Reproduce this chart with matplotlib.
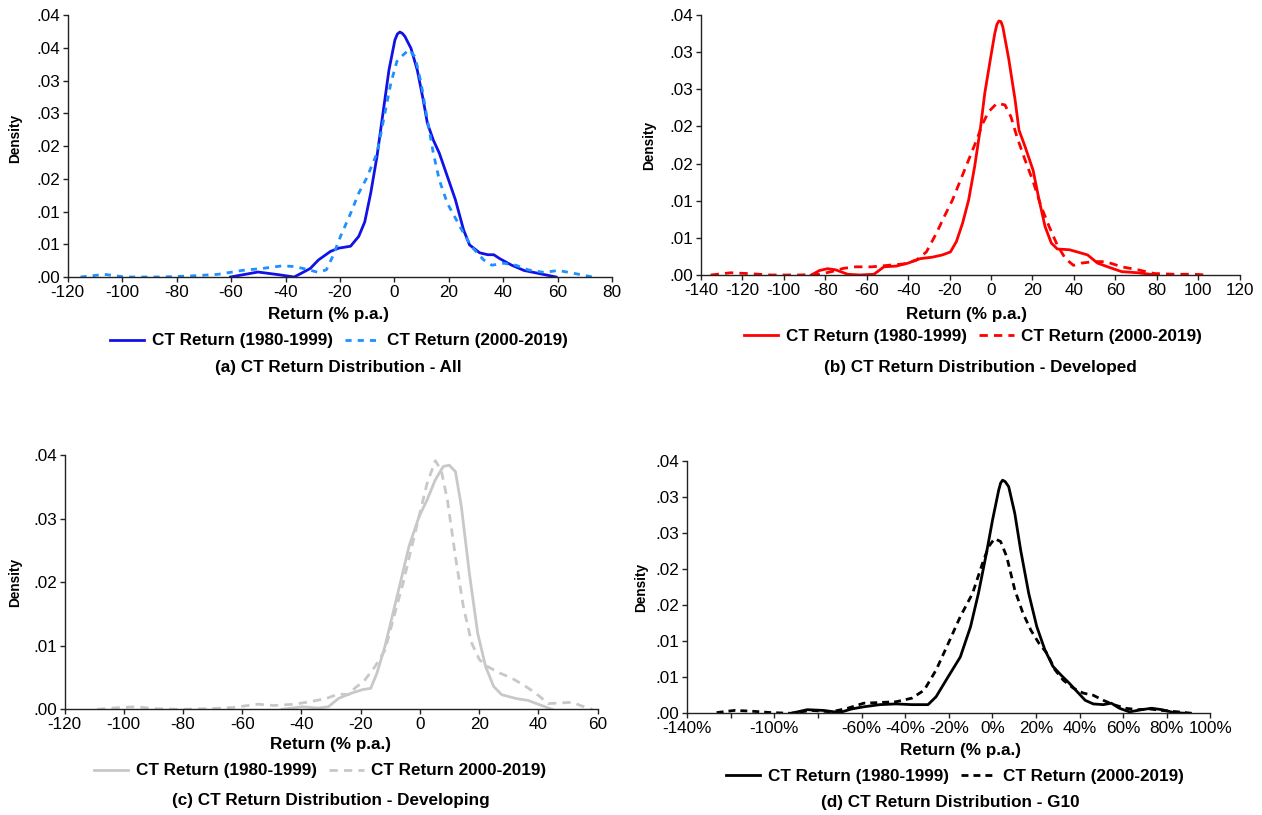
import matplotlib
matplotlib.use("Agg")
import matplotlib.pyplot as plt

plt.rcParams['font.family'] = ['Liberation Sans', 'DejaVu Sans']

# (a) All
a_x1 = [-60.2, -50.1, -42.7, -36.8, -30.9, -27.9, -23.5, -20.5, -16.1, -13.1, -10.9, -8.7, -6.4, -4.2, -2.0,
        0.2, 1.1, 2.0, 2.9, 3.9, 6.1, 8.4, 10.6, 12.1, 14.3, 16.5, 19.5, 22.4, 25.4, 27.6, 31.3, 34.3, 36.5,
        38.7, 43.1, 47.6, 53.5, 59.4]
a_y1 = [0, 0.00076, 0.00036, 0, 0.0013, 0.0026, 0.0039, 0.0044, 0.0047, 0.0062, 0.0084, 0.0128, 0.0184, 0.025,
        0.0316, 0.0362, 0.0371, 0.0374, 0.0372, 0.0367, 0.0349, 0.0316, 0.027, 0.0235, 0.0209, 0.0189, 0.0153,
        0.0118, 0.0072, 0.0049, 0.0037, 0.0034, 0.0034, 0.0028, 0.0018, 0.0010, 0.0005, 0]
a_x2 = [-115.3, -106.4, -99, -85.7, -75.3, -64.9, -56, -48.7, -41.2, -36.8, -32.4, -27.9, -25, -22.7, -19.8,
        -16.1, -13.1, -10.2, -6.4, -3.5, -1.3, 0.9, 3.2, 5.4, 7.6, 9.8, 12.1, 14.3, 16.5, 19.5, 22.4, 25.4,
        28.4, 32.8, 35.8, 40.2, 44.6, 49.1, 55, 60.2, 65.4, 72.8]
a_y2 = [0, 0.0004, 0, 0, 0.00015, 0.0004, 0.001, 0.0013, 0.0017, 0.0016, 0.0012, 0.0007, 0.0011, 0.0031,
        0.0062, 0.0097, 0.0128, 0.0151, 0.0189, 0.025, 0.0296, 0.0329, 0.0339, 0.0347, 0.0336, 0.0296, 0.024,
        0.0189, 0.0148, 0.0112, 0.009, 0.0067, 0.0046, 0.0026, 0.0018, 0.0021, 0.0018, 0.0011, 0.0007, 0.001,
        0.0006, 0]

# (b) Developed
b_x1 = [-86.7, -82.8, -78.9, -75, -69.2, -63.4, -56.5, -51.7, -45.8, -40, -34.2, -28.3, -23.5, -19.6, -16.7,
        -13.7, -10.8, -7.9, -5, -3.0, -0.1, 1.8, 2.8, 3.8, 4.8, 5.7, 8.6, 11.6, 13.5, 16.4, 20.3, 23.2, 26.1,
        29.1, 32, 37.8, 41.7, 46.6, 51.4, 57.3, 63.1, 70.9, 76.7, 80.6]
b_y1 = [0, 0.0006, 0.00085, 0.0007, 0.0001, 0, 0.0001, 0.0011, 0.0012, 0.0016, 0.0022, 0.0024, 0.0027, 0.0031,
        0.0045, 0.007, 0.0101, 0.0146, 0.02, 0.0245, 0.0294, 0.0325, 0.0337, 0.0342, 0.0341, 0.0334, 0.029,
        0.0236, 0.0195, 0.0173, 0.0141, 0.0101, 0.0065, 0.0043, 0.0035, 0.0034, 0.0031, 0.0027, 0.0016, 0.001,
        0.00045, 0.0003, 0.0001, 0]
b_x2 = [-135.3, -125.6, -117.8, -106.1, -92.5, -82.8, -77, -71.1, -65.3, -57.5, -49.7, -42, -36.1, -31.2,
        -26.4, -22.5, -18.6, -14.7, -10.8, -6.9, -4.0, -1.1, 2.8, 6.7, 9.6, 12.5, 16.4, 20.3, 24.2, 28.1, 32,
        35.9, 39.8, 43.6, 49.5, 55.3, 63.1, 70.9, 78.8, 88.4, 98.1, 103.9]
b_y2 = [0, 0.0003, 0.0002, 0, 0, 0.0001, 0.00045, 0.0009, 0.0011, 0.0011, 0.0013, 0.0015, 0.002, 0.0031,
        0.0056, 0.0079, 0.0101, 0.0128, 0.0155, 0.0182, 0.0204, 0.022, 0.0231, 0.0229, 0.0213, 0.0186, 0.0155,
        0.0126, 0.0092, 0.0065, 0.004, 0.0022, 0.0013, 0.0016, 0.0018, 0.0018, 0.0011, 0.0007, 0.0002, 0.0001,
        0.0001, 0]

# (c) Developing
c_x1 = [-46.5, -39.7, -34.3, -30.9, -27.5, -23.4, -19.3, -16.6, -14.5, -11.8, -9.1, -6.4, -3.7, -0.3, 2.4,
        5.2, 7.9, 9.9, 12, 14, 16.7, 19.5, 22.2, 24.9, 27.6, 32.4, 36.5, 40.5, 44.6]
c_y1 = [0, 0.0004, 0.0002, 0.0004, 0.0017, 0.0025, 0.0031, 0.0033, 0.0057, 0.0099, 0.0151, 0.0203, 0.0256,
        0.0303, 0.0329, 0.0361, 0.0382, 0.0384, 0.0374, 0.0319, 0.0214, 0.012, 0.0067, 0.0036, 0.0023, 0.0017,
        0.0014, 0.0007, 0]
c_x2 = [-109, -100.9, -95.5, -90, -80.5, -71, -62.9, -54.7, -49.3, -42.4, -37, -31.6, -27.5, -24.1, -22,
        -18.6, -15.2, -11.8, -9.1, -5.7, -3, -0.3, 2.4, 5.2, 7.2, 9.3, 12, 14.7, 17.5, 20.1, 22.9, 27, 31, 35.1,
        39.2, 43.3, 47.3, 51.4, 54.8, 58.2]
c_y2 = [0, 0.0003, 0.0004, 0.0001, 0, 0.0001, 0.0003, 0.0008, 0.0006, 0.0008, 0.0012, 0.0017, 0.0024, 0.0023,
        0.0033, 0.0046, 0.0067, 0.0093, 0.014, 0.0198, 0.0251, 0.0303, 0.0355, 0.0391, 0.0376, 0.0329, 0.024,
        0.0161, 0.0104, 0.0078, 0.0067, 0.0057, 0.0049, 0.0038, 0.0025, 0.0009, 0.001, 0.0011, 0.0005, 0]

# (d) G10, x in %
d_x1 = [-92.3, -84.9, -77.5, -70.1, -64.6, -59, -51.6, -44.2, -36.9, -29.5, -25.8, -20.2, -14.7, -10, -6.4,
        -2.7, 0.1, 2.9, 3.8, 4.7, 5.9, 7.5, 10.3, 13.0, 16.7, 20.4, 24.1, 27.8, 31.5, 35.2, 38.9, 42.6, 46.3,
        50.9, 54.6, 58.3, 62.9, 68.5, 73.1, 77.8, 83.3, 88.8]
d_y1 = [0, 0.0005, 0.0004, 0.0001, 0.0006, 0.0009, 0.0012, 0.0013, 0.0012, 0.0012, 0.0023, 0.0051, 0.0078,
        0.012, 0.0166, 0.0222, 0.0268, 0.0309, 0.0319, 0.0323, 0.0321, 0.0314, 0.0277, 0.0226, 0.0166, 0.012,
        0.0088, 0.0065, 0.0053, 0.0042, 0.003, 0.0018, 0.0013, 0.0012, 0.0014, 0.0007, 0.0002, 0.0005, 0.0007,
        0.0005, 0.0001, 0]
d_x2 = [-126.5, -118.2, -110.8, -101.6, -92.3, -83.1, -73.8, -66.4, -59, -51.6, -44.2, -36.9, -31.3, -25.8,
        -20.2, -14.7, -9.1, -4.5, -1.7, 1.0, 3.8, 6.6, 10.3, 14.0, 17.7, 21.4, 25.1, 28.8, 32.5, 37.1, 41.7,
        46.3, 50.9, 55.6, 61.1, 66.7, 72.2, 77.8, 85.2, 91.6]
d_y2 = [0.0001, 0.0004, 0.0003, 0.0001, 0, 0.0004, 0.0002, 0.0007, 0.0014, 0.0015, 0.0016, 0.0021, 0.0032,
        0.006, 0.0097, 0.0134, 0.0166, 0.0208, 0.0231, 0.0242, 0.0238, 0.0217, 0.0171, 0.0139, 0.0115, 0.0097,
        0.0083, 0.006, 0.0046, 0.0035, 0.0028, 0.0025, 0.0018, 0.0012, 0.0007, 0.0005, 0.0006, 0.0004, 0.0002, 0]

ylabels_8 = ['.00', '.01', '.01', '.02', '.02', '.03', '.03', '.04']
ylabels_9 = ['.00', '.01', '.01', '.02', '.02', '.03', '.03', '.04', '.04']
ylabels_5 = ['.00', '.01', '.02', '.03', '.04']
d_xticklabels = ['-140%', '', '-100%', '', '-60%', '-40%', '-20%', '0%', '20%', '40%', '60%', '80%', '100%']

W, H = 1262, 815
fig = plt.figure(figsize=(W / 100, H / 100), dpi=100)


def px_axes(l, t, r, b):
    return fig.add_axes([l / W, 1 - b / H, (r - l) / W, (b - t) / H])


def style(ax, xlim, xticks, ylim, yticks, yticklabels, xticklabels=None):
    ax.set_xlim(*xlim)
    ax.set_ylim(*ylim)
    ax.set_xticks(xticks)
    if xticklabels is not None:
        ax.set_xticklabels(xticklabels)
    else:
        ax.set_xticklabels([str(v) for v in xticks])
    ax.set_yticks(yticks)
    ax.set_yticklabels(yticklabels)
    for s in ['top', 'right']:
        ax.spines[s].set_visible(False)
    for s in ['left', 'bottom']:
        ax.spines[s].set_linewidth(1.0)
        ax.spines[s].set_color('#222222')
    ax.tick_params(direction='out', length=3.5, width=1.0, labelsize=12.3, pad=2, color='#222222')


lw = 2.0
fs = 12.3


def labels(ax, xl, yl, leg, cap, dens, handles, names):
    fig.text(xl[0] / W, 1 - xl[1] / H, 'Return (% p.a.)', ha='center', va='center',
             fontsize=fs, fontweight='bold')
    fig.text(dens[0] / W, 1 - dens[1] / H, 'Density', ha='center', va='center', rotation=90,
             fontsize=9.8, fontweight='bold')
    fig.text(cap[0] / W, 1 - cap[1] / H, yl, ha='center', va='center', fontsize=fs, fontweight='bold')
    ax.legend(handles, names, loc='center', bbox_to_anchor=(leg[0] / W, 1 - leg[1] / H),
              bbox_transform=fig.transFigure, ncol=2, frameon=False, handlelength=2.0,
              handletextpad=0.45, columnspacing=0.75, prop={'weight': 'bold', 'size': fs})


# (a)
ax = px_axes(67.7, 15, 612.2, 277)
h1, = ax.plot(a_x1, a_y1, color='#1212E6', lw=lw)
h2, = ax.plot(a_x2, a_y2, color='#1E90FF', lw=lw, ls=(0, (2.2, 2.2)))
style(ax, (-120, 80), list(range(-120, 81, 20)), (0, 0.04), [i * 0.005 for i in range(9)], ylabels_9)
labels(ax, (328, 314), '(a) CT Return Distribution - All', (339, 341), (338, 367), (15, 138),
       [h1, h2], ['CT Return (1980-1999)', 'CT Return (2000-2019)'])

# (b)
ax = px_axes(700.9, 15, 1239.7, 275)
h1, = ax.plot(b_x1, b_y1, color='#FF0000', lw=lw)
h2, = ax.plot(b_x2, b_y2, color='#FF0000', lw=lw, ls=(0, (3, 2.2)))
style(ax, (-140, 120), list(range(-140, 121, 20)), (0, 0.035), [i * 0.005 for i in range(8)], ylabels_8)
labels(ax, (966, 314), '(b) CT Return Distribution - Developed', (973, 336), (980, 367), (649, 145),
       [h1, h2], ['CT Return (1980-1999)', 'CT Return (2000-2019)'])

# (c)
ax = px_axes(64.5, 455, 597.6, 709.3)
h1, = ax.plot(c_x1, c_y1, color='#C8C8C8', lw=lw)
h2, = ax.plot(c_x2, c_y2, color='#C8C8C8', lw=lw, ls=(0, (3, 2.2)))
style(ax, (-120, 60), list(range(-120, 61, 20)), (0, 0.04), [i * 0.01 for i in range(5)], ylabels_5)
labels(ax, (331, 745), '(c) CT Return Distribution - Developing', (320, 771), (331, 801), (15, 582),
       [h1, h2], ['CT Return (1980-1999)', 'CT Return 2000-2019)'])

# (d)
ax = px_axes(687.2, 460.7, 1210.3, 713.3)
h1, = ax.plot(d_x1, d_y1, color='#000000', lw=lw)
h2, = ax.plot(d_x2, d_y2, color='#000000', lw=lw, ls=(0, (2.5, 1.8)))
style(ax, (-140, 100), list(range(-140, 101, 20)), (0, 0.035), [i * 0.005 for i in range(8)], ylabels_8,
      d_xticklabels)
labels(ax, (961, 751), '(d) CT Return Distribution - G10', (955, 776), (950, 802), (641, 587),
       [h1, h2], ['CT Return (1980-1999)', 'CT Return (2000-2019)'])

fig.savefig('out.png', dpi=100, facecolor='white')
